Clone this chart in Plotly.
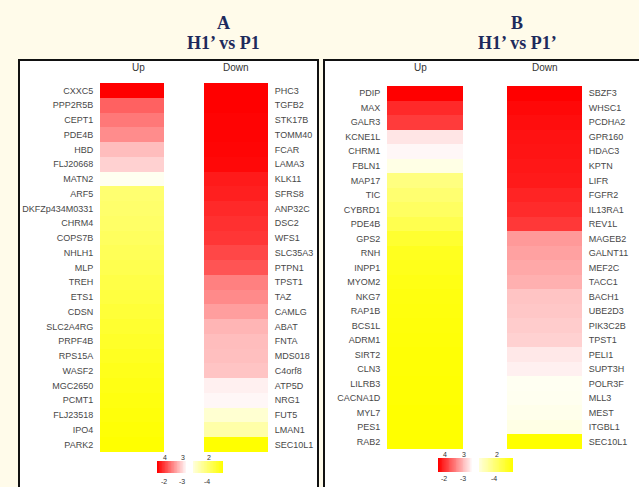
import numpy as np
import plotly.graph_objects as go

W, H = 639, 487

# ---------------- data ----------------
a_up_genes = ["CXXC5", "PPP2R5B", "CEPT1", "PDE4B", "HBD", "FLJ20668", "MATN2", "ARF5",
              "DKFZp434M0331", "CHRM4", "COPS7B", "NHLH1", "MLP", "TREH", "ETS1", "CDSN",
              "SLC2A4RG", "PRPF4B", "RPS15A", "WASF2", "MGC2650", "PCMT1", "FLJ23518", "IPO4", "PARK2"]
a_up_vals = [4.00, 3.62, 3.53, 3.45, 3.26, 3.18, 2.94, 2.44, 2.42, 2.40, 2.37, 2.34, 2.31, 2.28,
             2.25, 2.22, 2.19, 2.16, 2.13, 2.10, 2.08, 2.06, 2.04, 2.02, 2.00]

a_down_genes = ["PHC3", "TGFB2", "STK17B", "TOMM40", "FCAR", "LAMA3", "KLK11", "SFRS8", "ANP32C",
                "DSC2", "WFS1", "SLC35A3", "PTPN1", "TPST1", "TAZ", "CAMLG", "ABAT", "FNTA",
                "MDS018", "C4orf8", "ATP5D", "NRG1", "FUT5", "LMAN1", "SEC10L1"]
a_down_vals = [-2.00, -2.00, -2.01, -2.01, -2.02, -2.03, -2.10, -2.12, -2.16, -2.19, -2.21, -2.28,
               -2.33, -2.50, -2.54, -2.62, -2.71, -2.74, -2.75, -2.77, -2.94, -2.97, -3.18, -3.34, -4.00]

b_up_genes = ["PDIP", "MAX", "GALR3", "KCNE1L", "CHRM1", "FBLN1", "MAP17", "TIC", "CYBRD1", "PDE4B",
              "GPS2", "RNH", "INPP1", "MYOM2", "NKG7", "RAP1B", "BCS1L", "ADRM1", "SIRT2", "CLN3",
              "LILRB3", "CACNA1D", "MYL7", "PES1", "RAB2"]
b_up_vals = [4.00, 3.84, 3.77, 3.10, 3.03, 2.90, 2.50, 2.44, 2.38, 2.31, 2.19, 2.12, 2.10, 2.08,
             2.06, 2.05, 2.04, 2.03, 2.02, 2.02, 2.01, 2.01, 2.00, 2.00, 2.00]

b_down_genes = ["SBZF3", "WHSC1", "PCDHA2", "GPR160", "HDAC3", "KPTN", "LIFR", "FGFR2", "IL13RA1",
                "REV1L", "MAGEB2", "GALNT11", "MEF2C", "TACC1", "BACH1", "UBE2D3", "PIK3C2B", "TPST1",
                "PELI1", "SUPT3H", "POLR3F", "MLL3", "MEST", "ITGBL1", "SEC10L1"]
b_down_vals = [-2.00, -2.03, -2.05, -2.07, -2.08, -2.09, -2.10, -2.14, -2.17, -2.22, -2.60, -2.63,
               -2.66, -2.69, -2.77, -2.78, -2.80, -2.82, -2.91, -2.94, -3.05, -3.06, -3.08, -3.10, -4.00]

up_scale_labels = ["4", "3", "2"]
down_scale_labels = ["-2", "-3", "-4"]

panel_letters = ["A", "B"]
panel_titles = ["H1’ vs P1", "H1’ vs P1’"]
col_headers = ["Up", "Down"]

# ---------------- style ----------------
CS = [[0.0, "#ffff00"], [0.5, "#ffffff"], [1.0, "#ff0000"]]
BG = "#fffbea"
LABEL_FONT = dict(family="Liberation Sans, Arial, sans-serif", size=9, color="#484848")


def px_x(x):
    return x / W


def px_y(y):
    return 1 - y / H


fig = go.Figure()

# heatmap specs: (genes, values, zmin, zmax, x0, x1, y0, y1, side)
specs = [
    (a_up_genes, a_up_vals, 2, 4, 100, 164, 83, 452, "left"),
    (a_down_genes, a_down_vals, -4, -2, 204, 268, 83, 452, "right"),
    (b_up_genes, b_up_vals, 2, 4, 387, 463, 86, 449, "left"),
    (b_down_genes, b_down_vals, -4, -2, 507, 582, 86, 449, "right"),
]

layout_axes = {}
for i, (genes, vals, zmin, zmax, x0, x1, y0, y1, side) in enumerate(specs, start=1):
    xa = "x" if i == 1 else f"x{i}"
    ya = "y" if i == 1 else f"y{i}"
    fig.add_trace(go.Heatmap(
        z=[[v] for v in vals], x=[0], y=genes,
        zmin=zmin, zmax=zmax, colorscale=CS, showscale=False,
        xaxis=xa, yaxis=ya, hovertemplate="%{y}: %{z}<extra></extra>"))
    layout_axes[f"xaxis{'' if i == 1 else i}"] = dict(
        domain=[px_x(x0), px_x(x1)], visible=False, anchor=ya, fixedrange=True)
    layout_axes[f"yaxis{'' if i == 1 else i}"] = dict(
        domain=[px_y(y1), px_y(y0)], anchor=xa, side=side, type="category",
        autorange="reversed", showgrid=False, zeroline=False, showline=False,
        ticks="outside", ticklen=4, tickcolor="rgba(0,0,0,0)",
        tickfont=LABEL_FONT, fixedrange=True)

# colour key strips (scale ramps)
key_specs = [
    (157, 187, 461, 473, np.linspace(4.0, 3.0, 40)),
    (193, 223, 461, 473, np.linspace(2.85, 2.0, 40)),
    (438, 473, 458, 472, np.linspace(4.0, 3.0, 40)),
    (479, 513, 458, 472, np.linspace(2.85, 2.0, 40)),
]
for j, (x0, x1, y0, y1, ramp) in enumerate(key_specs, start=5):
    xa, ya = f"x{j}", f"y{j}"
    fig.add_trace(go.Heatmap(z=[list(ramp)], zmin=2, zmax=4, colorscale=CS,
                             showscale=False, xaxis=xa, yaxis=ya, hoverinfo="skip"))
    layout_axes[f"xaxis{j}"] = dict(domain=[px_x(x0), px_x(x1)], visible=False, anchor=ya, fixedrange=True)
    layout_axes[f"yaxis{j}"] = dict(domain=[px_y(y1), px_y(y0)], visible=False, anchor=xa, fixedrange=True)


def ann(text, cx, cy, font):
    return dict(x=px_x(cx), y=px_y(cy), xref="paper", yref="paper", text=text,
                xanchor="center", yanchor="middle", showarrow=False, font=font)


TITLE_FONT = dict(family="Liberation Serif, Times New Roman, serif", size=18, color="#1d2a5c")
HDR_FONT = dict(family="Liberation Sans, Arial, sans-serif", size=10, color="#333333")
KEY_FONT = dict(family="Liberation Sans, Arial, sans-serif", size=7, color="#333333")

annotations = []
for letter, title, cx in zip(panel_letters, panel_titles, [223, 517]):
    annotations.append(ann(f"<b>{letter}</b>", cx, 23, TITLE_FONT))
    annotations.append(ann(f"<b>{title}</b>", cx, 43, TITLE_FONT))
for hdr, cx in zip(col_headers * 2, [138, 236, 420, 545]):
    annotations.append(ann(hdr, cx, 68, HDR_FONT))

key_top_x = [[165, 183, 209], [445, 464, 497]]
key_bot_x = [[164, 182, 207], [444, 463, 494]]
key_top_y = [457, 454]
key_bot_y = [481, 478]
for p in range(2):
    for lab, cx in zip(up_scale_labels, key_top_x[p]):
        annotations.append(ann(lab, cx, key_top_y[p], KEY_FONT))
    for lab, cx in zip(down_scale_labels, key_bot_x[p]):
        annotations.append(ann(lab, cx, key_bot_y[p], KEY_FONT))

shapes = [
    dict(type="rect", xref="paper", yref="paper", x0=px_x(19), x1=px_x(318), y0=px_y(495), y1=px_y(60),
         line=dict(color="#111111", width=2), fillcolor="white", layer="below"),
    dict(type="rect", xref="paper", yref="paper", x0=px_x(324), x1=px_x(650), y0=px_y(495), y1=px_y(60),
         line=dict(color="#111111", width=2), fillcolor="white", layer="below"),
]

fig.update_layout(
    width=W, height=H, margin=dict(l=0, r=0, t=0, b=0),
    paper_bgcolor=BG, plot_bgcolor="rgba(0,0,0,0)",
    showlegend=False, annotations=annotations, shapes=shapes,
    **layout_axes)

fig.write_html(
    "out.html",
    config={"displayModeBar": False},
    post_script="document.body.style.margin='0';document.body.style.padding='0';"
                "document.body.style.overflow='hidden';document.body.style.background='" + BG + "';",
)
